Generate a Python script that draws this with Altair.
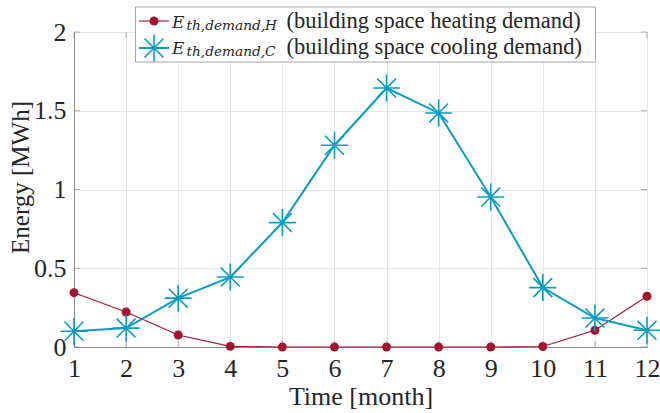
import altair as alt
import pandas as pd

# Monthly building energy demand [MWh]
months = list(range(1, 13))
heating = [0.345, 0.222, 0.076, 0.004, 0.0, 0.0, 0.0, 0.0, 0.0, 0.003, 0.106, 0.322]
cooling = [0.10, 0.12, 0.31, 0.444, 0.79, 1.281, 1.644, 1.486, 0.952, 0.377, 0.184, 0.106]

legend_symbols = ["E", "E"]
legend_subscripts = ["th,demand,H", "th,demand,C"]
legend_texts = ["(building space heating demand)", "(building space cooling demand)"]

RED = "#A2142F"
CYAN = "#0B9DC1"
TXT = "#262626"
SERIF = "Liberation Serif"
MATH = "DejaVu Serif"
STAR = "M-1,0L1,0M0,-1L0,1M-0.7,-0.7L0.7,0.7M-0.7,0.7L0.7,-0.7"

W, H = 573, 315

df = pd.DataFrame({"month": months, "heating": heating, "cooling": cooling})

x_enc = alt.X(
    "month:Q",
    scale=alt.Scale(domain=[1, 12], nice=False),
    axis=alt.Axis(
        values=months, title="Time [month]", grid=True, ticks=False, tickSize=0,
        labelFont=SERIF, titleFont=SERIF,
        labelFontSize=26, labelPadding=29, labelBaseline="alphabetic",
        titleFontSize=26, titleY=57, titleBaseline="alphabetic",
        labelFlush=False,
    ),
)
y_scale = alt.Scale(domain=[0, 2], nice=False)
y_axis = alt.Axis(
    values=[0, 0.5, 1, 1.5, 2], format="~g", title="Energy [MWh]", grid=True,
    ticks=False, tickSize=0, labelFont=SERIF, titleFont=SERIF,
    labelFontSize=26, labelPadding=8, labelBaseline="middle", labelFlush=False,
    titleFontSize=25, titleAngle=-90, titleX=-46, titleY=145,
    titleBaseline="alphabetic", titleAlign="center",
)

base = alt.Chart(df)

heat_line = base.mark_line(color=RED, strokeWidth=1.1).encode(
    x=x_enc, y=alt.Y("heating:Q", scale=y_scale, axis=y_axis)
)
heat_pts = base.mark_point(shape="circle", filled=True, opacity=1, color=RED, size=80).encode(
    x="month:Q", y=alt.Y("heating:Q", scale=y_scale)
)
cool_line = base.mark_line(color=CYAN, strokeWidth=2).encode(
    x="month:Q", y=alt.Y("cooling:Q", scale=y_scale)
)
cool_pts = base.mark_point(shape=STAR, filled=False, opacity=1, color=CYAN, size=729, strokeWidth=1.6).encode(
    x="month:Q", y=alt.Y("cooling:Q", scale=y_scale)
)

# Inward tick marks on all four sides of the box
tick_x = pd.DataFrame({"month": months})
tick_y = pd.DataFrame({"v": [0, 0.5, 1, 1.5, 2]})
TICK_C = "#8c8c8c"
ticks = [
    alt.Chart(tick_x).mark_tick(orient="vertical", size=6, color=TICK_C, thickness=1).encode(
        x="month:Q", y=alt.value(H - 3)),
    alt.Chart(tick_x).mark_tick(orient="vertical", size=6, color=TICK_C, thickness=1).encode(
        x="month:Q", y=alt.value(3)),
    alt.Chart(tick_y).mark_tick(orient="horizontal", size=6, color=TICK_C, thickness=1).encode(
        y=alt.Y("v:Q", scale=y_scale), x=alt.value(3)),
    alt.Chart(tick_y).mark_tick(orient="horizontal", size=6, color=TICK_C, thickness=1).encode(
        y=alt.Y("v:Q", scale=y_scale), x=alt.value(W - 3)),
]

# Legend box (pixel positions relative to the plot origin)
one = pd.DataFrame({"k": [0]})
LX0, LX1, LY0, LY1 = 61.5, 521.5, -25, 30
row_y = [-11, 16]
text_base = [-4.5, 21.5]
leg = [
    alt.Chart(one).mark_rect(fill="white", stroke="#a6a6a6", strokeWidth=1).encode(
        x=alt.value(LX0), x2=alt.value(LX1), y=alt.value(LY0), y2=alt.value(LY1)),
]
colors = [RED, CYAN]
for i in range(2):
    leg.append(alt.Chart(one).mark_rule(color=colors[i], strokeWidth=1.1 if i == 0 else 2).encode(
        x=alt.value(65), x2=alt.value(95), y=alt.value(row_y[i])))
    leg.append(alt.Chart(pd.DataFrame({"s": [legend_symbols[i]]})).mark_text(
        font=MATH, fontStyle="italic", fontSize=17, align="left", baseline="alphabetic", color=TXT
    ).encode(x=alt.value(98), y=alt.value(text_base[i]), text="s:N"))
    leg.append(alt.Chart(pd.DataFrame({"sub": [legend_subscripts[i]]})).mark_text(
        font=MATH, fontStyle="italic", fontSize=13.7, align="left", baseline="alphabetic", color=TXT
    ).encode(x=alt.value(112.5), y=alt.value(text_base[i] + 2.5), text="sub:N"))
    leg.append(alt.Chart(pd.DataFrame({"t": [legend_texts[i]]})).mark_text(
        font=SERIF, fontSize=22.5, align="left", baseline="alphabetic", color=TXT
    ).encode(x=alt.value(212.5), y=alt.value(text_base[i]), text="t:N"))
leg.append(alt.Chart(one).mark_point(shape="circle", filled=True, opacity=1, color=RED, size=80).encode(
    x=alt.value(80), y=alt.value(row_y[0])))
leg.append(alt.Chart(one).mark_point(shape=STAR, filled=False, opacity=1, color=CYAN, size=729,
                                     strokeWidth=1.6).encode(x=alt.value(80), y=alt.value(row_y[1])))

chart = alt.layer(
    heat_line, *ticks, heat_pts, cool_line, cool_pts, *leg
).properties(
    width=W, height=H,
    autosize=alt.AutoSizeParams(type="none"),
    padding={"left": 74, "top": 32, "right": 13, "bottom": 66},
    background="white",
).configure_view(
    stroke="#8c8c8c", strokeWidth=1
).configure_axis(
    domainColor="#8c8c8c", domainWidth=1, gridColor="#e6e6e6", gridWidth=1,
    labelFont=SERIF, titleFont=SERIF, labelColor=TXT, titleColor=TXT,
    titleFontWeight="normal",
).configure_text(
    font=SERIF
)

chart.save("out.html", embed_options={"renderer": "svg", "actions": False})
